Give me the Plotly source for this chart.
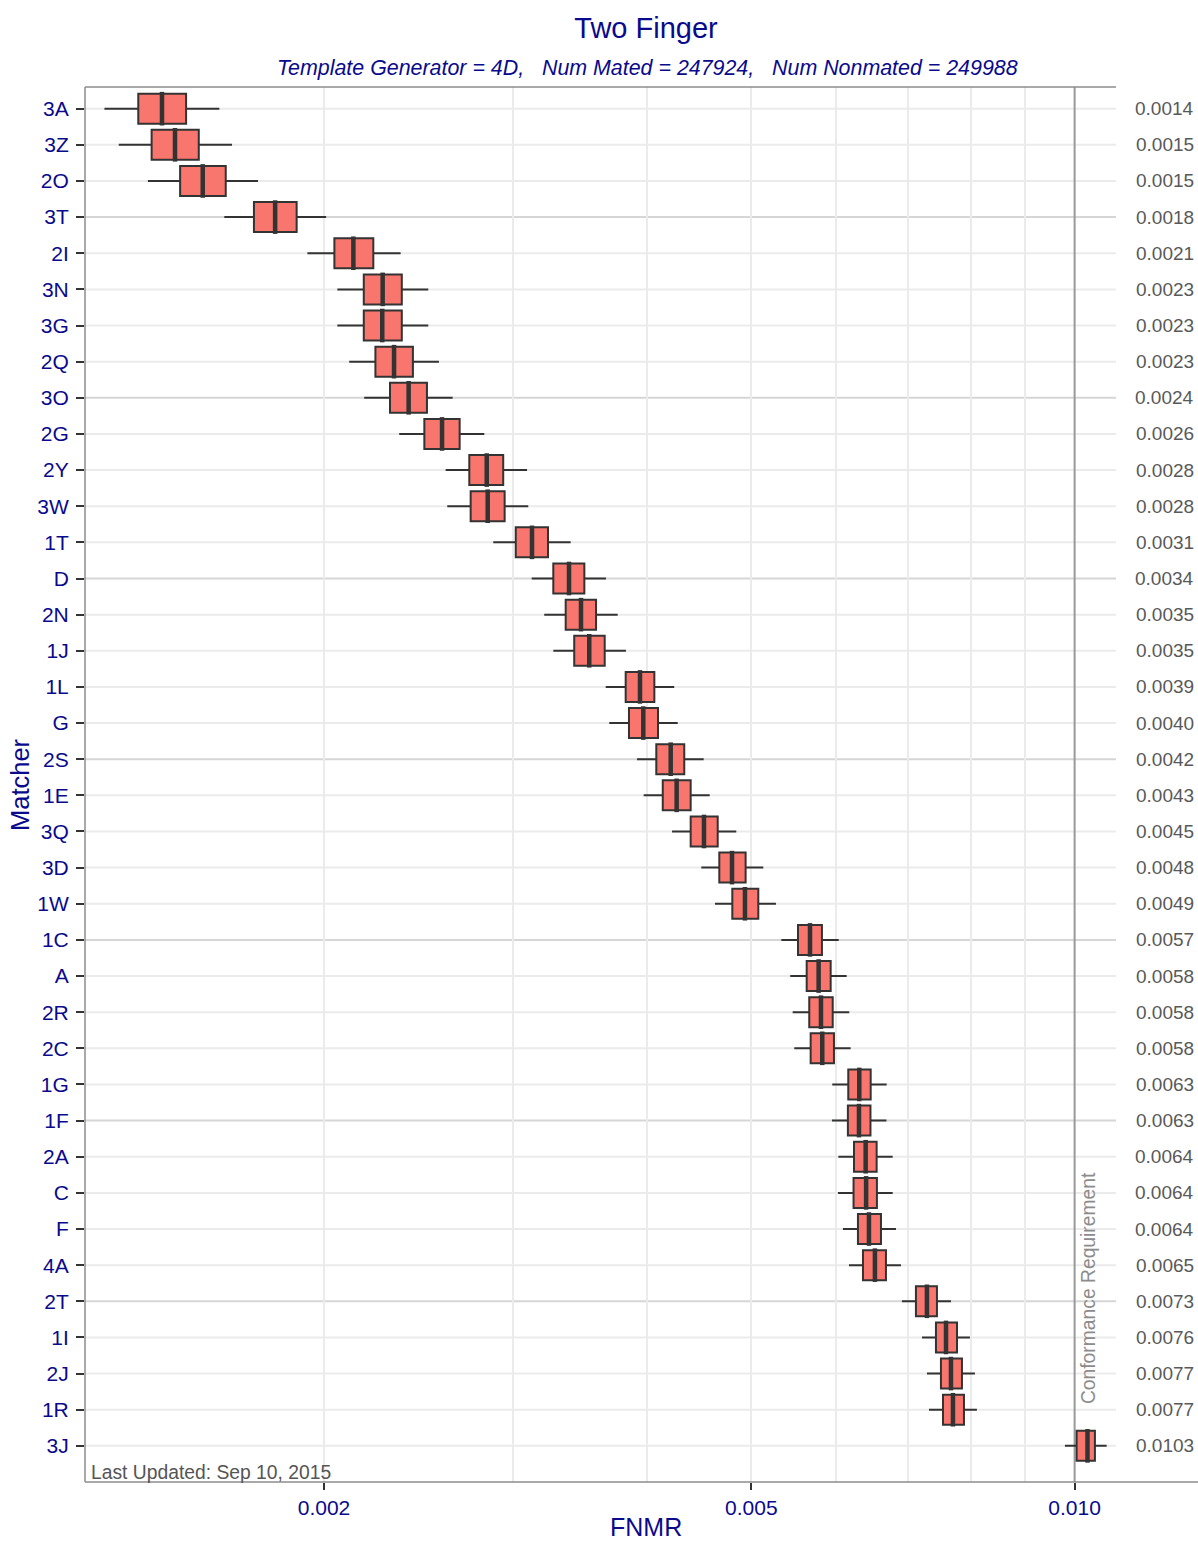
import math
import plotly.graph_objects as go

# ---------------- data ----------------
matchers = ["3A", "3Z", "2O", "3T", "2I", "3N", "3G", "2Q", "3O", "2G",
            "2Y", "3W", "1T", "D", "2N", "1J", "1L", "G", "2S", "1E",
            "3Q", "3D", "1W", "1C", "A", "2R", "2C", "1G", "1F", "2A",
            "C", "F", "4A", "2T", "1I", "2J", "1R", "3J"]

whisker_low = [0.001249, 0.001288, 0.001371, 0.001615, 0.001930, 0.002058, 0.002058, 0.002111, 0.002180, 0.002350,
               0.002596, 0.002605, 0.002875, 0.003122, 0.003207, 0.003270, 0.003659, 0.003687, 0.003913, 0.003969,
               0.004218, 0.004491, 0.004625, 0.005332, 0.005435, 0.005463, 0.005482, 0.005947, 0.005944, 0.006025,
               0.006020, 0.006085, 0.006164, 0.006906, 0.007209, 0.007286, 0.007318, 0.009794]
q1 = [0.001343, 0.001382, 0.001469, 0.001721, 0.002045, 0.002178, 0.002178, 0.002233, 0.002304, 0.002480,
      0.002731, 0.002739, 0.003017, 0.003270, 0.003358, 0.003420, 0.003819, 0.003846, 0.004078, 0.004135,
      0.004390, 0.004668, 0.004800, 0.005526, 0.005630, 0.005661, 0.005678, 0.006155, 0.006150, 0.006231,
      0.006225, 0.006284, 0.006352, 0.007116, 0.007428, 0.007508, 0.007541, 0.010043]
median = [0.001413, 0.001453, 0.001542, 0.001801, 0.002130, 0.002268, 0.002266, 0.002324, 0.002398, 0.002576,
          0.002835, 0.002841, 0.003124, 0.003382, 0.003470, 0.003532, 0.003938, 0.003966, 0.004206, 0.004260,
          0.004517, 0.004797, 0.004932, 0.005670, 0.005776, 0.005805, 0.005821, 0.006302, 0.006298, 0.006389,
          0.006395, 0.006434, 0.006517, 0.007286, 0.007590, 0.007671, 0.007704, 0.010280]
q3 = [0.001488, 0.001529, 0.001620, 0.001886, 0.002223, 0.002363, 0.002363, 0.002420, 0.002494, 0.002675,
      0.002937, 0.002946, 0.003233, 0.003495, 0.003584, 0.003651, 0.004061, 0.004093, 0.004330, 0.004390,
      0.004652, 0.004939, 0.005075, 0.005817, 0.005927, 0.005953, 0.005969, 0.006458, 0.006455, 0.006541,
      0.006545, 0.006602, 0.006673, 0.007444, 0.007771, 0.007854, 0.007888, 0.010445]
whisker_high = [0.001598, 0.001642, 0.001736, 0.002009, 0.002357, 0.002501, 0.002501, 0.002559, 0.002635, 0.002820,
                0.003091, 0.003099, 0.003394, 0.003661, 0.003754, 0.003821, 0.004238, 0.004270, 0.004514, 0.004573,
                0.004841, 0.005130, 0.005271, 0.006030, 0.006134, 0.006168, 0.006186, 0.006683, 0.006680, 0.006770,
                0.006770, 0.006818, 0.006891, 0.007671, 0.007990, 0.008076, 0.008110, 0.010711]

for arr in (whisker_low, q1, median, q3, whisker_high):
    assert len(arr) == len(matchers)

x_tick_vals = [0.002, 0.005, 0.010]
x_tick_text = ["0.002", "0.005", "0.010"]
x_grid_vals = [0.002, 0.003, 0.004, 0.005, 0.006, 0.007, 0.008, 0.009]
conformance_fnmr = 0.010
x_limits = [0.001198, 0.010928]

title_text = "Two Finger"
subtitle_text = ("<i>Template Generator = 4D,\u00a0\u00a0\u00a0Num Mated = 247924,"
                 "\u00a0\u00a0\u00a0Num Nonmated = 249988</i>")
updated_text = "Last Updated: Sep 10, 2015"

# ---------------- styling ----------------
FONT = "Liberation Sans, Arial, Helvetica, sans-serif"
NAVY = "#0a0a8c"
BOX_FILL = "#F8766D"
DARK = "#333333"
GRID = "#EBEBEB"
GRID_DARK = "#D6D6D6"
BORDER = "#8C8C8C"

W, H = 1198, 1542
M_L, M_R, M_T, M_B = 85, 82, 87, 60
plot_w = W - M_L - M_R
plot_h = H - M_T - M_B

fig = go.Figure()

fig.add_trace(go.Box(
    y=matchers,
    q1=q1, median=median, q3=q3,
    lowerfence=whisker_low, upperfence=whisker_high,
    orientation="h",
    fillcolor=BOX_FILL,
    line=dict(color=DARK, width=2),
    whiskerwidth=0,
    width=0.83,
    boxpoints=False,
    showlegend=False,
    hoverinfo="skip",
))

# thicker median bars (ggplot style)
fig.add_trace(go.Scatter(
    x=median, y=matchers, mode="markers",
    marker=dict(symbol="line-ns", size=24, color=DARK,
                line=dict(color=DARK, width=4.5)),
    showlegend=False, hoverinfo="skip",
))

shapes = []
# horizontal grid lines, every 5th row darker
for i, m in enumerate(matchers):
    shapes.append(dict(type="line", xref="paper", x0=0, x1=1, yref="y", y0=m, y1=m,
                       line=dict(color=GRID_DARK if i % 5 == 3 else GRID, width=2), layer="below"))
# conformance line
shapes.append(dict(type="line", xref="x", x0=conformance_fnmr, x1=conformance_fnmr,
                   yref="paper", y0=0, y1=1, line=dict(color="#999999", width=2), layer="below"))
# panel borders (top, left, bottom extending to the right edge)
shapes.append(dict(type="line", xref="paper", x0=0, x1=1, yref="paper", y0=1, y1=1,
                   line=dict(color=BORDER, width=1.5)))
shapes.append(dict(type="line", xref="paper", x0=0, x1=0, yref="paper", y0=0, y1=1,
                   line=dict(color=BORDER, width=1.5)))
shapes.append(dict(type="line", xref="paper", x0=0, x1=(W - M_L) / plot_w, yref="paper", y0=0, y1=0,
                   line=dict(color=BORDER, width=1.5)))

annotations = []
# median value labels on the right
for m, v in zip(matchers, median):
    annotations.append(dict(
        text=f"{v:.4f}", xref="paper", x=(1196 - M_L) / plot_w, xanchor="right",
        yref="y", y=m, yanchor="middle", showarrow=False,
        font=dict(family=FONT, size=19, color="#595959")))
# subtitle
annotations.append(dict(
    text=subtitle_text, xref="paper", x=(647 - M_L) / plot_w, xanchor="center",
    yref="paper", y=(H - M_B - 68) / plot_h, yanchor="middle", showarrow=False,
    font=dict(family=FONT, size=21.4, color=NAVY)))
# axis titles
annotations.append(dict(
    text="FNMR", xref="paper", x=(646 - M_L) / plot_w, xanchor="center",
    yref="paper", y=(H - M_B - 1527) / plot_h, yanchor="middle", showarrow=False,
    font=dict(family=FONT, size=25, color=NAVY)))
annotations.append(dict(
    text="Matcher", xref="paper", x=(20 - M_L) / plot_w, xanchor="center",
    yref="paper", y=(H - M_B - 785) / plot_h, yanchor="middle", showarrow=False,
    textangle=-90, font=dict(family=FONT, size=25.5, color=NAVY)))
# conformance label
annotations.append(dict(
    text="Conformance Requirement", xref="x", x=math.log10(conformance_fnmr), xanchor="left",
    xshift=1, yref="paper", y=(H - M_B - 1406) / plot_h, yanchor="bottom", showarrow=False,
    textangle=-90, font=dict(family=FONT, size=19.3, color="#8C8C8C")))
# last updated
annotations.append(dict(
    text=updated_text, xref="paper", x=(89 - M_L) / plot_w, xanchor="left",
    yref="paper", y=(H - M_B - 1472) / plot_h, yanchor="middle", showarrow=False,
    font=dict(family=FONT, size=19.3, color="#555555")))

n = len(matchers)
fig.update_layout(
    width=W, height=H,
    margin=dict(l=M_L, r=M_R, t=M_T, b=M_B),
    paper_bgcolor="white", plot_bgcolor="white",
    font=dict(family=FONT, color=NAVY),
    title=dict(text=title_text, x=646 / W, xanchor="center", y=1 - 28 / H, yanchor="middle",
               font=dict(family=FONT, size=29, color=NAVY)),
    xaxis=dict(
        type="log",
        range=[math.log10(x_limits[0]), math.log10(x_limits[1])],
        tickvals=x_tick_vals, ticktext=x_tick_text,
        ticks="outside", ticklen=7, tickwidth=2, tickcolor=DARK,
        tickfont=dict(family=FONT, size=21, color=NAVY),
        showgrid=False,
        minor=dict(tickvals=x_grid_vals, showgrid=True, gridcolor=GRID, gridwidth=1.5, ticks=""),
        showline=False, zeroline=False,
    ),
    yaxis=dict(
        type="category",
        categoryorder="array", categoryarray=matchers,
        range=[n - 1 + 1.0, -0.6],
        ticks="outside", ticklen=8, tickwidth=2, tickcolor=DARK,
        ticklabelstandoff=3,
        tickfont=dict(family=FONT, size=21, color=NAVY),
        showgrid=False,
        showline=False, zeroline=False,
    ),
    shapes=shapes,
    annotations=annotations,
)

fig.write_html("out.html",
               config={"displayModeBar": False},
               post_script="document.body.style.margin='0';document.body.style.padding='0';")
